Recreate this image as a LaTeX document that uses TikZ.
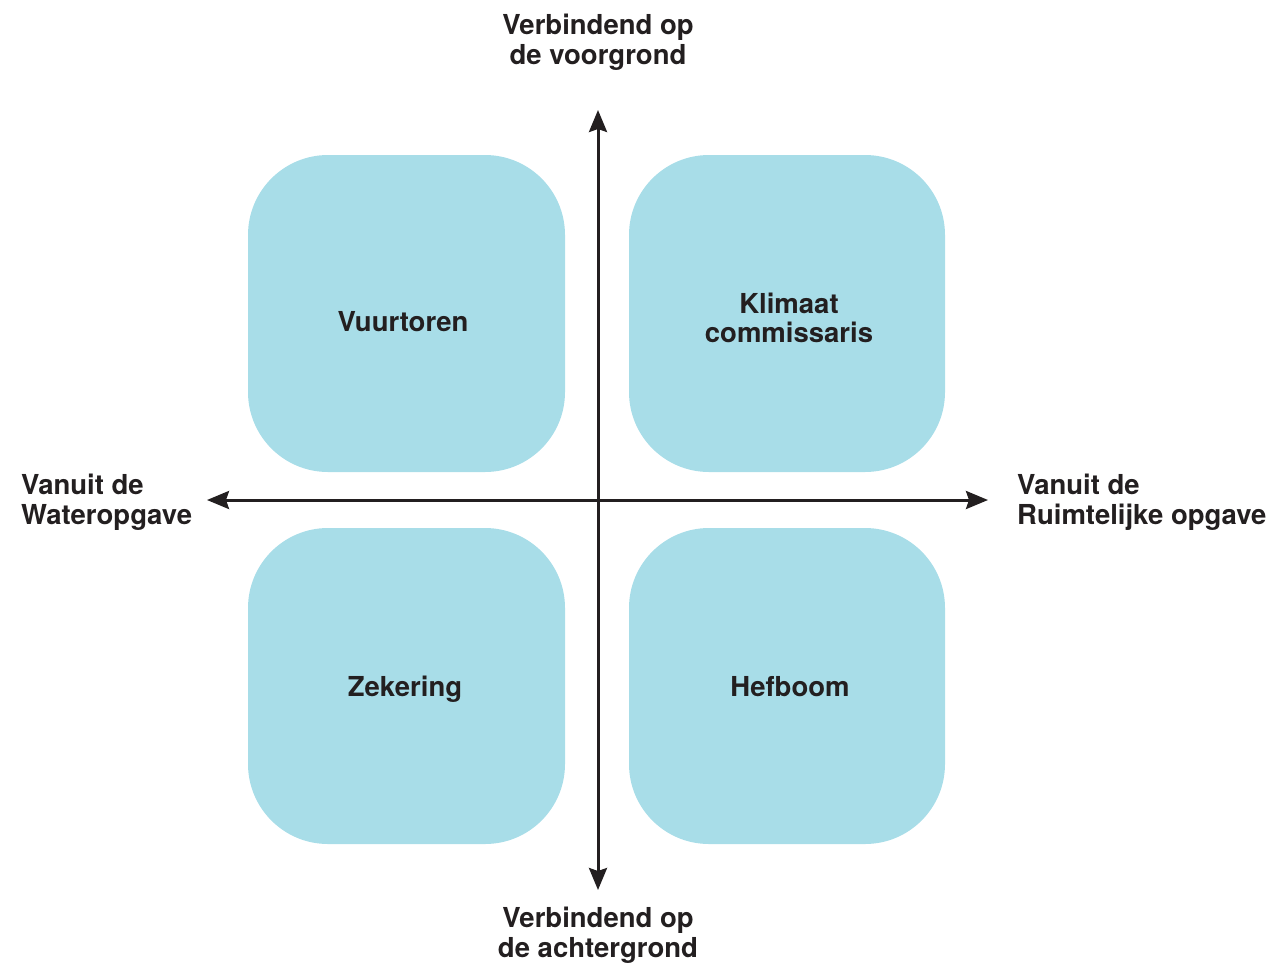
\documentclass[tikz,border=0pt]{standalone}
\usepackage{fontspec}
\setmainfont{TeX Gyre Heros}
\usetikzlibrary{arrows.meta}
\definecolor{boxfill}{HTML}{A8DDE8}
\definecolor{ink}{HTML}{231F20}
\tikzset{
  quad/.style={fill=boxfill, draw=none, rounded corners=80pt},
  qlabel/.style={font=\fontsize{27.5}{29.5}\selectfont\bfseries, text=ink, align=center, inner sep=0pt},
  axlabel/.style={font=\fontsize{27.5}{29.5}\selectfont\bfseries, text=ink, inner sep=0pt},
  axis/.style={draw=ink, line width=3pt, {Stealth[inset=3pt,length=22pt,width=18pt]}-{Stealth[inset=3pt,length=22pt,width=18pt]}}
}
\begin{document}
\begin{tikzpicture}[x=1pt,y=-1pt]
\useasboundingbox (0,0) rectangle (1274,962);
% quadrant boxes
\path[quad] (248,155) rectangle (565,472);
\path[quad] (629,155) rectangle (945,472);
\path[quad] (248,528) rectangle (565,844);
\path[quad] (629,528) rectangle (945,844);
% axes
\coordinate (top) at (598,110);
\coordinate (bot) at (598,890);
\coordinate (lft) at (207,500);
\coordinate (rgt) at (988,500);
\draw[axis] (bot) -- (top);
\draw[axis] (lft) -- (rgt);
% quadrant labels
\node[qlabel] (vuur) at (403,322) {Vuurtoren};
\node[qlabel] (klim) at (789,318) {Klimaat\\commissaris};
\node[qlabel] (zek) at (405,689) {Zekering};
\node[qlabel] (hef) at (790,687) {Hefboom};
% axis labels
\node[axlabel, align=center] (tl) at (598,42) {Verbindend op\\de voorgrond};
\node[axlabel, align=center] (bl) at (598,935) {Verbindend op\\de achtergrond};
\node[axlabel, align=left, anchor=west] (ll) at (21,502) {Vanuit de\\Wateropgave};
\node[axlabel, align=left, anchor=west] (rl) at (1017,502) {Vanuit de\\Ruimtelijke opgave};
\end{tikzpicture}
\end{document}
